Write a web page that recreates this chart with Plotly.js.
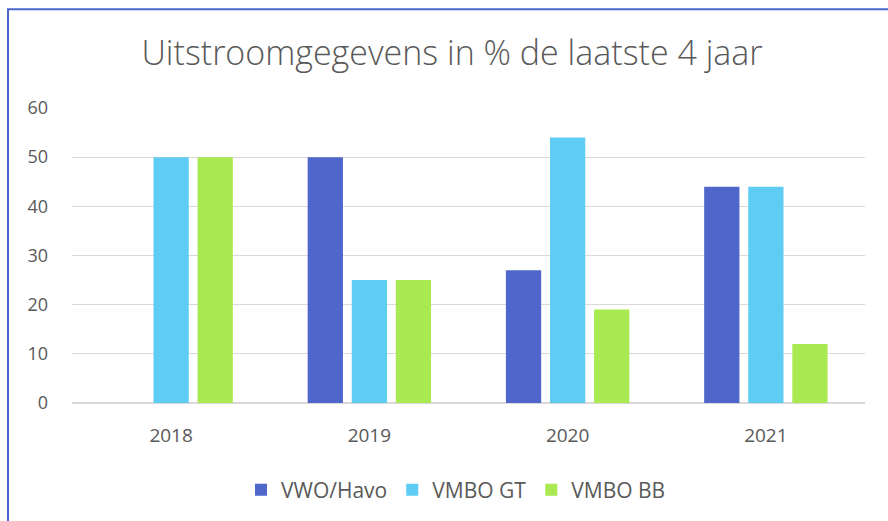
<!DOCTYPE html>
<html><head><meta charset="utf-8">
<script src="https://cdn.plot.ly/plotly-3.0.1.min.js"></script>
<style>body{margin:0;background:#fff}#c{width:888px;height:521px}</style>
</head><body><div id="c"></div>
<script>
const years = ['2018', '2019', '2020', '2021'];
const seriesNames = ['VWO/Havo', 'VMBO GT', 'VMBO BB'];
const vwoHavo = [0, 50, 27, 44];
const vmboGT = [50, 25, 54, 44];
const vmboBB = [50, 25, 19, 12];
const colors = ['#4f66cb', '#5fcdf3', '#a9e952'];
const yTicks = [0, 10, 20, 30, 40, 50, 60];

const font = "'Open Sans', Lato, sans-serif";
const data = [vwoHavo, vmboGT, vmboBB].map((v, i) => ({
  type: 'bar', x: years, y: v, name: seriesNames[i],
  marker: {color: colors[i]}, hoverinfo: 'none'
}));

const W = 888, H = 521, L = 72, R = 23, T = 108, B = 117;
const pw = W - L - R, ph = H - T - B;
const layout = {
  width: W, height: H,
  margin: {l: L, r: R, t: T, b: B},
  paper_bgcolor: '#fff', plot_bgcolor: '#fff',
  font: {family: font, color: '#595959'},
  title: {text: 'Uitstroomgegevens in % de laatste 4 jaar', font: {size: 34, color: '#595959', family: font, weight: 300},
          x: 452 / W, xref: 'container', xanchor: 'center', y: 1 - 53 / H, yanchor: 'middle'},
  barmode: 'group', bargap: 0.333, bargroupgap: 0.2,
  xaxis: {tickfont: {size: 19, color: '#595959'}, showline: false, ticks: '', showgrid: false, zeroline: false,
          ticklabelstandoff: 19},
  yaxis: {range: [0, 60], tickvals: yTicks, tickfont: {size: 18, color: '#595959'},
          gridcolor: '#d9d9d9', gridwidth: 1, zeroline: true, zerolinecolor: '#d9d9d9', zerolinewidth: 2,
          ticklabelstandoff: 23, showline: false, ticks: ''},
  legend: {orientation: 'h', x: (456 - L) / pw, xanchor: 'center', y: -(490 - 404) / ph, yanchor: 'middle',
           font: {size: 21, color: '#595959'}, itemwidth: 20, traceorder: 'normal'},
  shapes: [{type: 'rect', xref: 'paper', yref: 'paper',
            x0: (8 - L) / pw, x1: (W + 20 - L) / pw, y0: -(H + 20 - T - ph) / ph, y1: (T + ph - 9) / ph,
            line: {color: '#4a66c8', width: 2}, fillcolor: 'rgba(0,0,0,0)', layer: 'above'}]
};
Plotly.newPlot('c', data, layout, {displayModeBar: false, staticPlot: true});
</script></body></html>
